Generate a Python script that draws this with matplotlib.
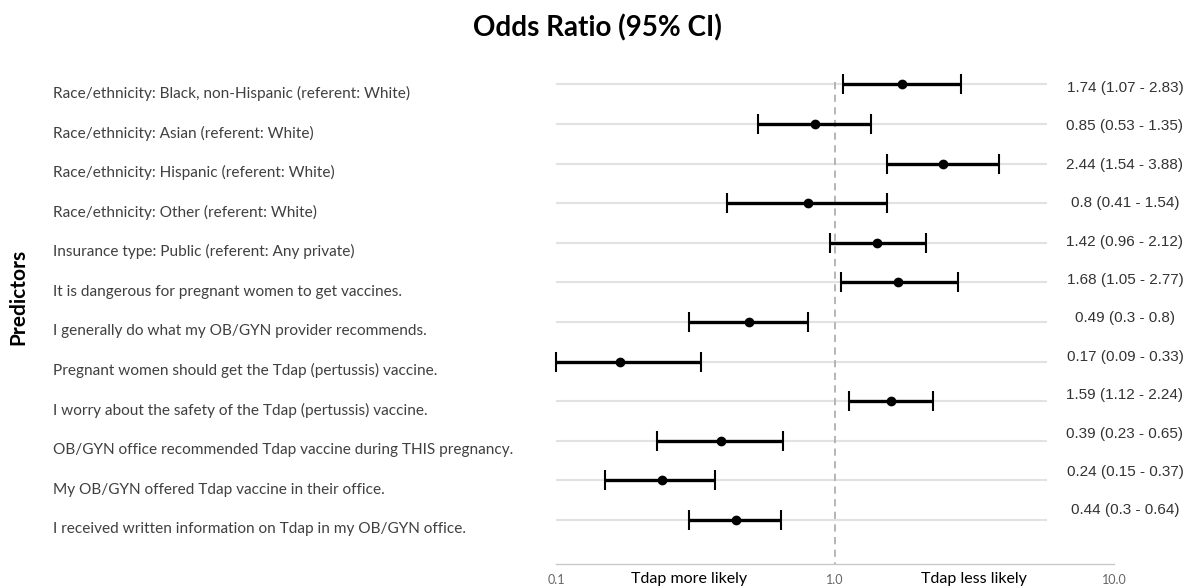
import numpy as np
import matplotlib
matplotlib.use("Agg")
import matplotlib.pyplot as plt
import matplotlib.transforms as mtransforms

predictors = [
    "Race/ethnicity: Black, non-Hispanic (referent: White)",
    "Race/ethnicity: Asian (referent: White)",
    "Race/ethnicity: Hispanic (referent: White)",
    "Race/ethnicity: Other (referent: White)",
    "Insurance type: Public (referent: Any private)",
    "It is dangerous for pregnant women to get vaccines.",
    "I generally do what my OB/GYN provider recommends.",
    "Pregnant women should get the Tdap (pertussis) vaccine.",
    "I worry about the safety of the Tdap (pertussis) vaccine.",
    "OB/GYN office recommended Tdap vaccine during THIS pregnancy.",
    "My OB/GYN offered Tdap vaccine in their office.",
    "I received written information on Tdap in my OB/GYN office.",
]
odds_ratio = [1.74, 0.85, 2.44, 0.8, 1.42, 1.68, 0.49, 0.17, 1.59, 0.39, 0.24, 0.44]
ci_low = [1.07, 0.53, 1.54, 0.41, 0.96, 1.05, 0.3, 0.09, 1.12, 0.23, 0.15, 0.3]
ci_high = [2.83, 1.35, 3.88, 1.54, 2.12, 2.77, 0.8, 0.33, 2.24, 0.65, 0.37, 0.64]
x_ticks = [0.1, 1.0, 10.0]
x_tick_labels = ["0.1", "1.0", "10.0"]

W, H = 1194, 588
fig = plt.figure(figsize=(W / 100, H / 100), dpi=100)
ax = fig.add_axes([556 / W, 1 - 564 / H, 558 / W, (564 - 60) / H])

n = len(predictors)
rows = np.arange(n)
xmin, xmax = 0.1, 10.0
ax.set_xscale("log")
ax.set_xlim(xmin, xmax)
ax.set_ylim(n - 1 + 44 / 39.6, -24.4 / 39.6)

# light row lines and reference line at OR = 1
ax.hlines(rows, xmin, 5.75, color="#e2e2e2", lw=1.5, zorder=1)
ax.vlines(1.0, -0.05, n - 1 + 44 / 39.6, color="#b0b0b0", lw=1.3,
          linestyles=(0, (4, 3)), zorder=1)

lo = np.clip(ci_low, xmin, xmax)
hi = np.clip(ci_high, xmin, xmax)
orr = np.array(odds_ratio)
ax.errorbar(orr, rows, xerr=[orr - lo, hi - orr], fmt="o", color="black",
            ms=6, elinewidth=2.4, capsize=7.5, capthick=1.5, zorder=3,
            clip_on=False)

# left labels (predictors)
trans_left = mtransforms.blended_transform_factory(fig.transFigure, ax.transData)
for i, lab in enumerate(predictors):
    ax.text(53 / W, i + 0.23, lab, transform=trans_left, ha="left", va="center",
            fontsize=11.1, family="Lato", color="#404040")

# right labels: OR (CI)
for i in range(n):
    s = f"{odds_ratio[i]:g} ({ci_low[i]:g} - {ci_high[i]:g})"
    ax.text(1125 / W, 0.09 + i * 38.4 / 39.6, s, transform=trans_left,
            ha="center", va="center", fontsize=11, family="Liberation Sans",
            color="#333333")

ax.set_xticks(x_ticks)
ax.set_xticklabels(x_tick_labels, family="Lato", fontsize=9, color="#666666")
ax.xaxis.set_minor_locator(matplotlib.ticker.NullLocator())
ax.tick_params(axis="x", length=0, pad=7)
ax.set_yticks([])
for side in ["top", "left", "right"]:
    ax.spines[side].set_visible(False)
ax.spines["bottom"].set_color("#c8c8c8")
ax.spines["bottom"].set_linewidth(1.0)

tx = ax.get_xaxis_transform()
ax.text(0.3, -0.03, "Tdap more likely", transform=tx, ha="center", va="center",
        fontsize=11.5, family="Lato", color="black")
ax.text(3.16, -0.03, "Tdap less likely", transform=tx, ha="center", va="center",
        fontsize=11.5, family="Lato", color="black")

fig.text(0.5, 1 - 28 / H, "Odds Ratio (95% CI)", ha="center", va="center",
         fontsize=20, family="Lato", weight="bold")
fig.text(18 / W, 1 - 297 / H, "Predictors", rotation=90, ha="center",
         va="center", fontsize=15, family="Lato", weight="bold")

fig.savefig("out.png", dpi=100)
